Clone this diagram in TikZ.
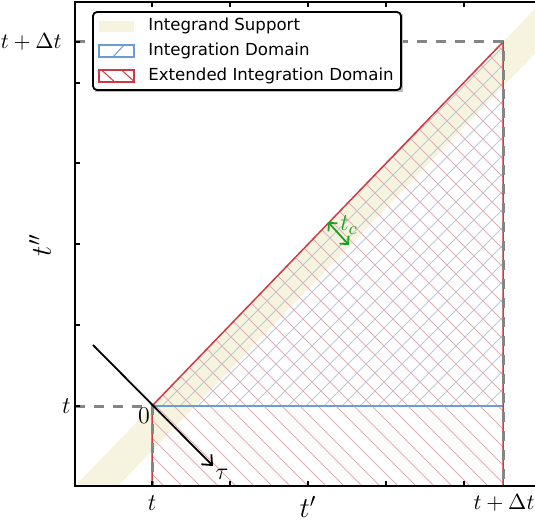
\documentclass[tikz,border=0pt]{standalone}
\usepackage{fontspec}
\newfontfamily\legendfont{DejaVu Sans}
\usetikzlibrary{arrows.meta}
\definecolor{band}{HTML}{F6F4DE}
\definecolor{redline}{HTML}{CC3A44}
\definecolor{blueline}{HTML}{6A9ED2}
\definecolor{redhatch}{HTML}{DDB0B6}
\definecolor{bluehatch}{HTML}{B0CDE6}
\definecolor{guide}{HTML}{858585}
\definecolor{tcgreen}{HTML}{1E9E1E}
\begin{document}
\begin{tikzpicture}[x=0.5pt,y=-0.5pt,font=\fontsize{10.5}{12}\selectfont,
    guide/.style={draw=guide,line width=1.5pt,dash pattern=on 5pt off 4.5pt},
    spine/.style={line width=0.9pt},
    hatchline/.style={line width=0.4pt},
    onechar/.style={font=\fontsize{12}{14}\selectfont},
    legtext/.style={anchor=west,inner sep=0pt,font=\legendfont\fontsize{8.3}{10}\selectfont}]
      \useasboundingbox (0,0) rectangle (535,523);
      \coordinate (O) at (152,406);
      \coordinate (T) at (503,42);
      % integrand support, a band along the diagonal
      \begin{scope}
        \clip (75,2) rectangle (535,486);
        \fill[band] (75,486) -- (541.6,2) -- (584.6,2) -- (118,486) -- cycle;
      \end{scope}
      % extended domain (\\) and integration domain (//)
      \begin{scope}
        \clip (152,486) -- (O) -- (T) -- (503,486) -- cycle;
        \foreach \c in {-340,-322,...,470}
          \draw[redhatch,hatchline] (\c,0) -- (\c+600,600);
      \end{scope}
      \begin{scope}
        \clip (O) -- (T) -- (503,406) -- cycle;
        \foreach \c in {190,208,...,910}
          \draw[bluehatch,hatchline] (\c,0) -- (\c-600,600);
      \end{scope}
      \draw[blueline,line width=0.75pt] (O) -- (503,406);
      \draw[redline,line width=0.75pt] (152,486) -- (O) -- (T) -- (503,486);
      \draw[guide] (75,406) -- (O) -- (152,486);
      \draw[guide] (75,42) -- (T) -- (503,486);
      % frame and ticks
      \draw[spine] (535,2) -- (75,2) -- (75,486) -- (535,486);
      \foreach \x in {152,230,308,386,464}{
        \draw[spine] (\x,486) -- (\x,481);
        \draw[spine] (\x,2) -- (\x,7);}
      \foreach \y in {42,83,163,244,325,406}
        \draw[spine] (75,\y) -- (80,\y);
      \node[onechar] (xt0) at (152,503) {$t$};
      \node (xt1) at (504,503) {$t+\Delta t$};
      \node[onechar,anchor=east,inner sep=0pt] (yt0) at (71,406) {$t$};
      \node[anchor=east,inner sep=0pt] (yt1) at (62,42) {$t+\Delta t$};
      \node (xlab) at (308,507) {\fontsize{14.5}{16}\selectfont$t'$};
      \node[rotate=90] (ylab) at (40,245) {\fontsize{14.5}{16}\selectfont$t''$};
      % origin and the tau direction
      \node[onechar] (zero) at (144,416) {$0$};
      \coordinate (taustart) at (93,345);
      \coordinate (tauend) at (213,466);
      \draw[line width=0.9pt,-{Straight Barb[length=4pt,width=7pt]}] (taustart) -- (tauend);
      \node[onechar] (tau) at (222,474) {$\tau$};
      % band width
      \coordinate (tca) at (328,222);
      \coordinate (tcb) at (349,245);
      \draw[tcgreen,line width=0.9pt,{Straight Barb[length=3pt,width=6pt]}-{Straight Barb[length=3pt,width=6pt]}] (tca) -- (tcb);
      \node[text=tcgreen] (tc) at (349,225) {\fontsize{12.5}{14}\selectfont$t_c$};
      % legend
      \fill[black!25] (95,14) rectangle (403,92);
      \draw[fill=white,rounded corners=2pt,line width=0.9pt] (93,12) rectangle (401,90);
      \fill[band] (99,21) rectangle (134,32);
      \draw[blueline,line width=0.75pt] (99,45) rectangle (134,57);
      \draw[blueline,line width=0.5pt] (113,57) -- (124,45);
      \begin{scope}
        \clip (99,70) rectangle (134,82);
        \draw[redline,line width=0.5pt] (97,66) -- (117,84) (117,66) -- (137,84);
      \end{scope}
      \draw[redline,line width=0.75pt] (99,70) rectangle (134,82);
      \node[legtext] (leg1) at (148,26) {Integrand Support};
      \node[legtext] (leg2) at (148,51) {Integration Domain};
      \node[legtext] (leg3) at (148,76) {Extended Integration Domain};
\end{tikzpicture}
\end{document}
